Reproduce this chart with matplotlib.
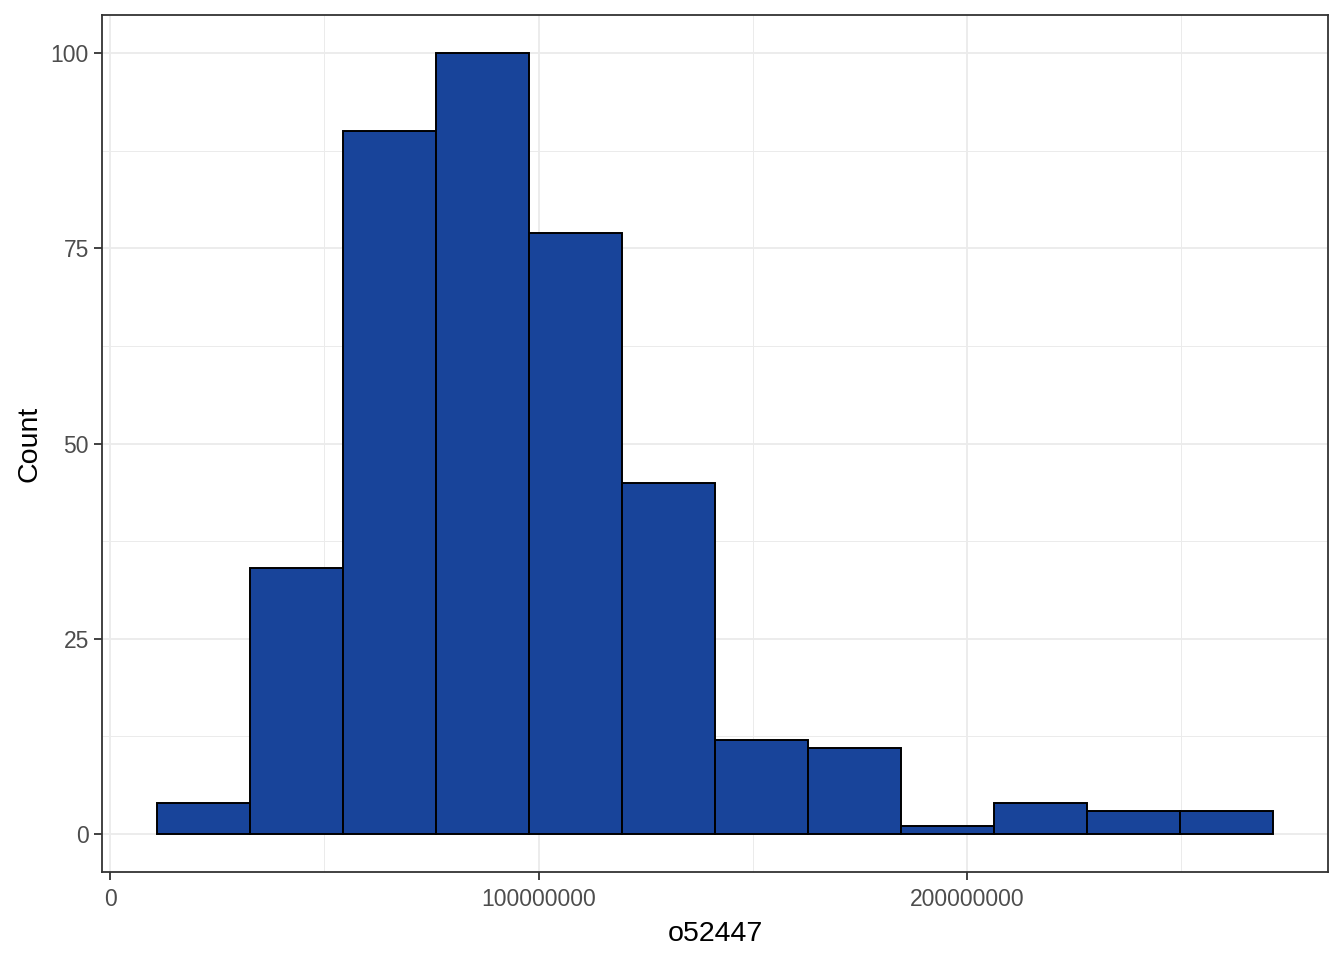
import numpy as np
import matplotlib
matplotlib.use('Agg')
import matplotlib.pyplot as plt
from matplotlib.ticker import MultipleLocator

# Histogram data
counts = [4, 34, 90, 100, 77, 45, 12, 11, 1, 4, 3, 3]
bin_start = 10.97e6
bin_width = 21.7e6
edges = bin_start + bin_width * np.arange(len(counts) + 1)

x_ticks = [0, 100000000, 200000000]
x_tick_labels = ['0', '100000000', '200000000']
y_ticks = [0, 25, 50, 75, 100]

plt.rcParams['font.family'] = ['Liberation Sans', 'DejaVu Sans']

fig = plt.figure(figsize=(13.44, 9.6), dpi=100)
ax = fig.add_axes([102 / 1344, 1 - 872 / 960, (1328 - 102) / 1344, (872 - 15) / 960])

ax.bar(edges[:-1], counts, width=np.diff(edges), align='edge',
       color='#18449A', edgecolor='black', linewidth=1.4, zorder=3)

ax.set_xlim(-1.867e6, 284.2e6)
ax.set_ylim(-4.865, 104.87)

ax.set_xticks(x_ticks)
ax.set_xticklabels(x_tick_labels)
ax.set_yticks(y_ticks)
ax.xaxis.set_minor_locator(MultipleLocator(50e6))
ax.yaxis.set_minor_locator(MultipleLocator(12.5))

ax.grid(True, which='major', color='#EBEBEB', linewidth=1.3, zorder=0)
ax.grid(True, which='minor', color='#EBEBEB', linewidth=0.7, zorder=0)
ax.set_axisbelow(True)

ax.tick_params(which='major', length=5.5, width=1.3, color='#333333',
               labelsize=16.5, labelcolor='#4D4D4D', pad=4)
ax.tick_params(axis='x', which='major', pad=6)
ax.tick_params(which='minor', length=0)

for s in ax.spines.values():
    s.set_color('#333333')
    s.set_linewidth(1.3)

ax.set_xlabel('o52447', fontsize=20.5, color='black', labelpad=7)
ax.set_ylabel('Count', fontsize=20.5, color='black', labelpad=6)

fig.savefig('out.png', dpi=100)
